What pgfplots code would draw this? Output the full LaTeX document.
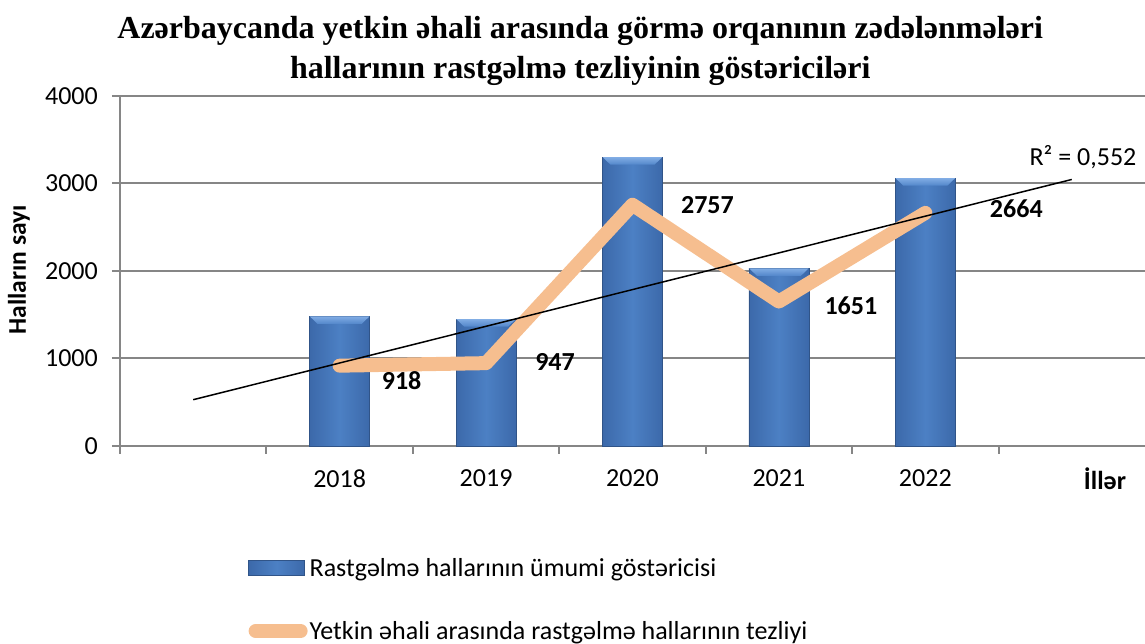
\documentclass[border=0pt]{standalone}
\usepackage{pgfplots}
\pgfplotsset{compat=1.18}
\usepackage{fontspec}
\setmainfont{Carlito}
\newfontfamily\titlefont{Liberation Serif}
\definecolor{gridgray}{RGB}{134,134,134}
\definecolor{barmid}{RGB}{76,128,196}
\definecolor{baredge}{RGB}{60,105,170}
\definecolor{bevtop}{RGB}{128,172,228}
\definecolor{bevbot}{RGB}{82,134,202}
\definecolor{peach}{RGB}{246,190,143}
\tikzset{barsty/.style={draw=baredge!80!black, line width=0.8pt, left color=baredge, right color=baredge, middle color=barmid},
  bevsty/.style={draw=none, top color=bevtop, bottom color=bevbot}}
\newcommand\bigf{\fontsize{26}{30}\selectfont}
\begin{document}
\begin{tikzpicture}
\path[use as bounding box] (-120pt,-198pt) rectangle (1025pt,446pt);
\begin{axis}[
  at={(0,0)}, anchor=south west,
  scale only axis, width=1025pt, height=350pt,
  xmin=-0.5, xmax=6.5, ymin=0, ymax=4000,
  axis x line*=bottom, axis y line*=left,
  axis line style={gridgray, line width=2pt},
  tick align=outside, major tick length=8pt,
  tick style={gridgray, line width=2pt},
  ytick={0,1000,2000,3000,4000},
  yticklabels={{\bigf 0},{\bigf 1000},{\bigf 2000},{\bigf 3000},{\bigf 4000}},
  yticklabel style={inner sep=0pt, anchor=east, xshift=-14pt},
  ymajorgrids, grid style={gridgray, line width=2pt},
  xtick={-0.5,0.5,1.5,2.5,3.5,4.5,5.5},
  xticklabels={},
  extra x ticks={1,2,3,4,5},
  extra x tick labels={2018,2019,2020,2021,2022},
  extra x tick style={major tick length=0pt, xticklabel style={yshift=-20pt, font=\bigf}},
  ylabel={\bfseries Halların sayı},
  every axis y label/.style={at={(axis description cs:-0.0985,0.503)}, rotate=90, anchor=center, font=\fontsize{25.5}{28}\selectfont},
  legend style={at={(0.122,-0.31)}, anchor=north west, draw=none, fill=none, font=\bigf, row sep=39pt},
  legend cell align=left,
  clip=false,
]
\addplot[ybar, bar width=60pt, barsty, legend image code/.code={\draw[barsty] (0pt,-7pt) rectangle (56pt,8pt);}]
  coordinates {(1,1480)};
\addlegendentry{Rastgəlmə hallarının ümumi göstəricisi}
\addplot[ybar, bar width=60pt, barsty, forget plot] coordinates {(2,1450)};
\addplot[ybar, bar width=60pt, barsty, forget plot] coordinates {(3,3300)};
\addplot[ybar, bar width=60pt, barsty, forget plot] coordinates {(4,2030)};
\addplot[ybar, bar width=60pt, barsty, forget plot] coordinates {(5,3060)};
% top bevels of the bars
\addplot[bevsty, forget plot] coordinates {(0.797,1480) (1.203,1480) (1.15,1395) (0.85,1395)} -- cycle;
\addplot[bevsty, forget plot] coordinates {(1.797,1450) (2.203,1450) (2.15,1365) (1.85,1365)} -- cycle;
\addplot[bevsty, forget plot] coordinates {(2.797,3300) (3.203,3300) (3.15,3215) (2.85,3215)} -- cycle;
\addplot[bevsty, forget plot] coordinates {(3.797,2030) (4.203,2030) (4.15,1945) (3.85,1945)} -- cycle;
\addplot[bevsty, forget plot] coordinates {(4.797,3060) (5.203,3060) (5.15,2975) (4.85,2975)} -- cycle;
\addplot[peach, line width=14pt, line join=round, line cap=round, mark=none,
  legend image code/.code={\draw[peach, line width=14pt, line cap=round] (7pt,0pt) -- (52pt,0pt);}]
  coordinates {(1,918) (2,947) (3,2757) (4,1651) (5,2664)};
\addlegendentry{Yetkin əhali arasında rastgəlmə hallarının tezliyi}
\addplot[black, line width=1.5pt, forget plot] coordinates {(0,529) (6,3046)};
\node[font=\bigf\bfseries, xshift=62pt, yshift=-15pt] at (axis cs:1,918) {918};
\node[font=\bigf\bfseries, xshift=69pt, yshift=1pt] at (axis cs:2,947) {947};
\node[font=\bigf\bfseries, xshift=75pt, yshift=0pt] at (axis cs:3,2757) {2757};
\node[font=\bigf\bfseries, xshift=72pt, yshift=-4pt] at (axis cs:4,1651) {1651};
\node[font=\bigf\bfseries, xshift=91pt, yshift=4pt] at (axis cs:5,2664) {2664};
\node[font=\bigf] at (axis description cs:0.9395,0.826) {R² = 0,552};
\node[font=\bigf\bfseries] at (axis description cs:0.961,-0.094) {İllər};
\node[font=\titlefont\bfseries\fontsize{32}{40}\selectfont, align=center] at (axis description cs:0.449,1.13)
  {Azərbaycanda yetkin əhali arasında görmə orqanının zədələnmələri\\hallarının rastgəlmə tezliyinin göstəriciləri};
\end{axis}
\end{tikzpicture}
\end{document}
